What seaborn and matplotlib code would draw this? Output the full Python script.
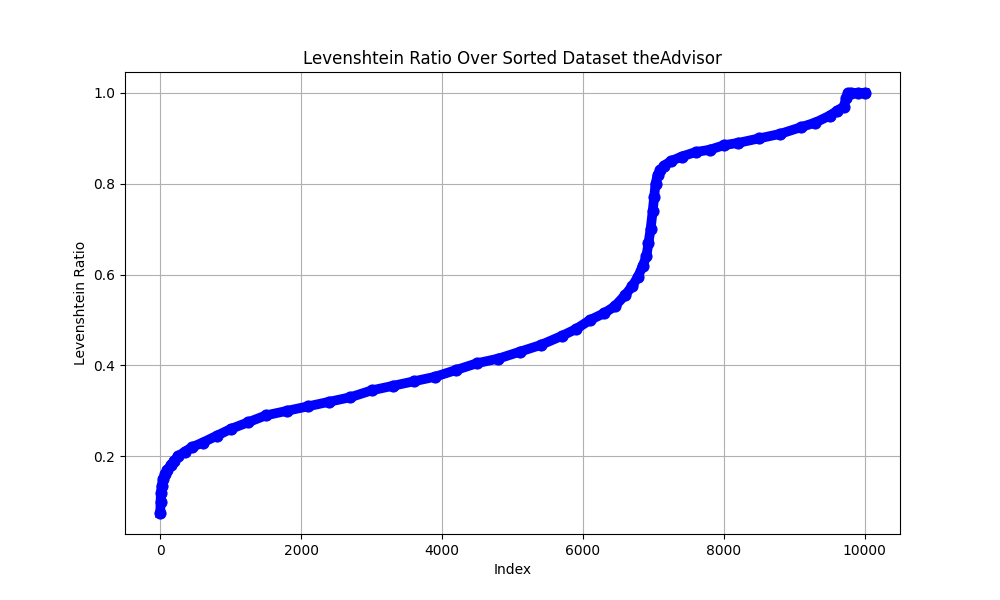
import matplotlib
matplotlib.use("Agg")
import matplotlib.pyplot as plt
import pandas as pd
import seaborn as sns

# values (sorted Levenshtein ratios)
index_values = [0, 5, 10, 20, 40, 70, 100, 150, 200, 250, 350, 450, 600, 800, 1000,
                1250, 1500, 1800, 2100, 2400, 2700, 3000, 3300, 3600, 3900, 4200,
                4500, 4800, 5100, 5400, 5700, 5900, 6100, 6300, 6450, 6600, 6700,
                6780, 6850, 6900, 6930, 6960, 6990, 7010, 7030, 7060, 7100, 7150,
                7250, 7400, 7600, 7800, 8000, 8200, 8500, 8800, 9100, 9300, 9500,
                9600, 9700, 9740, 9760, 9800, 9900, 10000]
ratio_values = [0.075, 0.10, 0.12, 0.135, 0.15, 0.16, 0.17, 0.18, 0.19, 0.20, 0.21, 0.22,
                0.23, 0.245, 0.26, 0.275, 0.29, 0.30, 0.31, 0.32, 0.33, 0.345, 0.355,
                0.365, 0.375, 0.39, 0.405, 0.415, 0.43, 0.445, 0.465, 0.48, 0.50,
                0.515, 0.53, 0.555, 0.575, 0.595, 0.62, 0.64, 0.67, 0.70, 0.74, 0.77,
                0.80, 0.82, 0.83, 0.84, 0.85, 0.86, 0.87, 0.875, 0.885, 0.89, 0.90,
                0.91, 0.925, 0.935, 0.95, 0.96, 0.97, 0.99, 1.0, 1.0, 1.0, 1.0]

df = pd.DataFrame({"Index": index_values, "Levenshtein Ratio": ratio_values})

fig, ax = plt.subplots(figsize=(10, 6), dpi=100)
sns.lineplot(data=df, x="Index", y="Levenshtein Ratio", color="blue",
             linewidth=7, marker="o", markersize=8, markeredgecolor="blue", ax=ax)
ax.set_title("Levenshtein Ratio Over Sorted Dataset theAdvisor")
ax.set_xlabel("Index")
ax.set_ylabel("Levenshtein Ratio")
ax.grid(True)
fig.savefig("out.png")
